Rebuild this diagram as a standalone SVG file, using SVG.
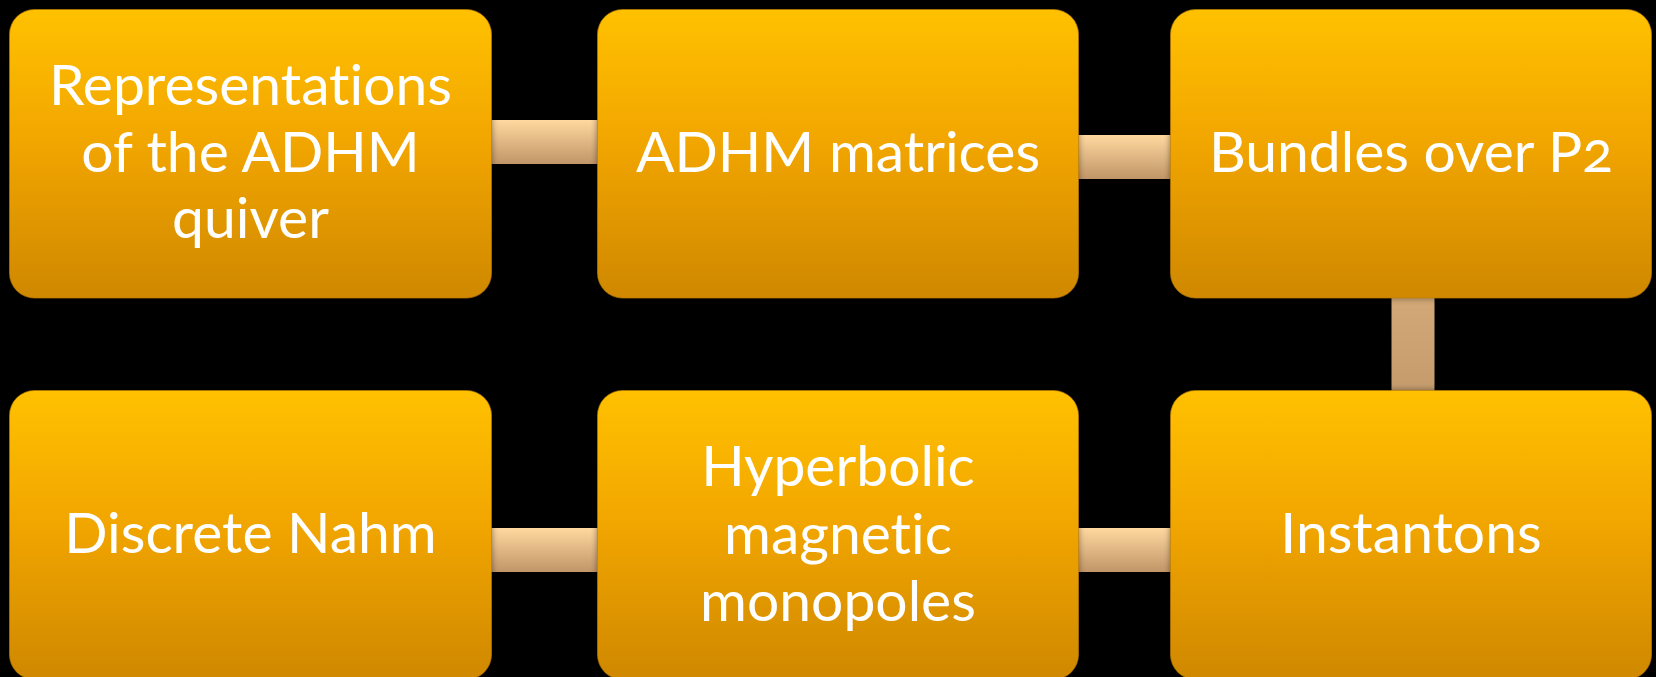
<svg xmlns="http://www.w3.org/2000/svg" width="1656" height="677" viewBox="0 0 1656 677">
  <defs>
    <linearGradient id="boxFill" x1="0" y1="0" x2="0" y2="1">
      <stop offset="0" stop-color="#ffc100"/>
      <stop offset="0.45" stop-color="#f2a600"/>
      <stop offset="1" stop-color="#cf8800"/>
    </linearGradient>
    <linearGradient id="hLink" x1="0" y1="0" x2="0" y2="1">
      <stop offset="0" stop-color="#ffd89f"/>
      <stop offset="1" stop-color="#c09568"/>
    </linearGradient>
    <linearGradient id="vLink" x1="0" y1="0" x2="0" y2="1">
      <stop offset="0" stop-color="#d3a978"/>
      <stop offset="1" stop-color="#c59b6d"/>
    </linearGradient>
    <filter id="shadow" x="-5%" y="-5%" width="110%" height="110%">
      <feDropShadow dx="0" dy="0" stdDeviation="3" flood-color="#000" flood-opacity="0.45"/>
    </filter>
    <style>
      .box { fill: url(#boxFill); stroke: #b87a00; stroke-opacity: 0.6; stroke-width: 1; filter: url(#shadow); }
      .hl { fill: url(#hLink); }
      .vl { fill: url(#vLink); }
      .lbl { fill: #ffffff; font-family: Lato, "Open Sans", "Liberation Sans", sans-serif; font-size: 57px; font-weight: 400; text-anchor: middle; font-variant-ligatures: none; font-variant-numeric: oldstyle-nums; }
    </style>
  </defs>
  <rect width="1656" height="677" fill="#000"/>

  <!-- links between the six stages -->
  <g id="connectors">
    <rect class="hl" x="488" y="120" width="112" height="44"/>
    <rect class="hl" x="1076" y="135" width="97" height="44"/>
    <rect class="vl" x="1391.5" y="295" width="43" height="98"/>
    <rect class="hl" x="1076" y="528" width="97" height="44"/>
    <rect class="hl" x="488" y="528" width="112" height="44"/>
  </g>

  <g id="representations">
    <rect class="box" x="9.5" y="9.5" width="482" height="288.5" rx="25"/>
    <text class="lbl" x="250.5" y="105">Representations</text>
    <text class="lbl" x="250.5" y="171.7">of the ADHM</text>
    <text class="lbl" x="250.5" y="238.3">quiver</text>
  </g>

  <g id="adhm-matrices">
    <rect class="box" x="597.5" y="9.5" width="481" height="288.5" rx="25"/>
    <text class="lbl" x="838" y="171.7">ADHM matrices</text>
  </g>

  <g id="bundles">
    <rect class="box" x="1170.5" y="9.5" width="481" height="288.5" rx="25"/>
    <text class="lbl" x="1411" y="171.7">Bundles over P2</text>
  </g>

  <g id="discrete-nahm">
    <rect class="box" x="9.5" y="390.5" width="482" height="289" rx="25"/>
    <text class="lbl" x="250.5" y="553">Discrete Nahm</text>
  </g>

  <g id="hyperbolic-monopoles">
    <rect class="box" x="597.5" y="390.5" width="481" height="289" rx="25"/>
    <text class="lbl" x="838" y="486">Hyperbolic</text>
    <text class="lbl" x="838" y="553.5">magnetic</text>
    <text class="lbl" x="838" y="620.7">monopoles</text>
  </g>

  <g id="instantons">
    <rect class="box" x="1170.5" y="390.5" width="481" height="289" rx="25"/>
    <text class="lbl" x="1411" y="553">Instantons</text>
  </g>
</svg>
